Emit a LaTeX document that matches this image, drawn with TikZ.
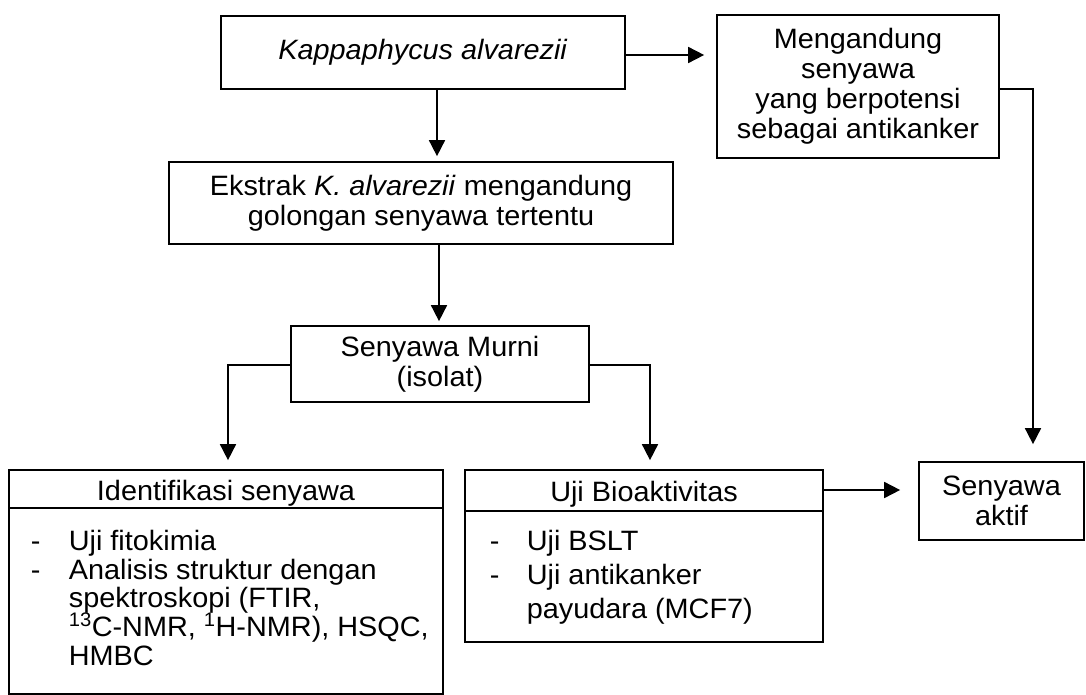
\documentclass[tikz,border=0pt]{standalone}
\usepackage{fontspec}
\setmainfont{Liberation Sans}[FakeStretch=1.03]
\usetikzlibrary{arrows.meta}
\begin{document}
\begin{tikzpicture}[x=1pt,y=-1pt,line width=1.7pt,
  every node/.style={font=\fontsize{28}{30}\selectfont, inner sep=0pt},
  box/.style={draw, rectangle, align=center, anchor=center},
  txt/.style={anchor=base west},
  ctxt/.style={anchor=base},
  arr/.style={-{Triangle[length=16pt,width=16pt]}}]
\useasboundingbox (0,0) rectangle (1086,695);

% boxes
\node[box, minimum width=404pt, minimum height=73pt] (k) at (423,52.5) {\textit{Kappaphycus alvarezii}};
\node[box, minimum width=282pt, minimum height=143pt] (m) at (858,86.5)
  {\fontsize{28}{30.5}\selectfont Mengandung\\senyawa\\yang berpotensi\\sebagai antikanker};
\node[box, minimum width=504pt, minimum height=82pt] (e) at (421,203)
  {\fontsize{28}{30}\selectfont Ekstrak \textit{K. alvarezii} mengandung\\golongan senyawa tertentu};
\node[box, minimum width=298pt, minimum height=76pt] (s) at (440,364) {Senyawa Murni\\(isolat)};
\node[box, minimum width=434pt, minimum height=224pt] (id) at (226,582) {};
\node[box, minimum width=358pt, minimum height=172pt] (bio) at (644,556) {};
\node[box, minimum width=165pt, minimum height=78pt] (ak) at (1001.5,501)
  {\fontsize{28}{30}\selectfont Senyawa\\aktif};

% dividers
\draw (id.west |- 0,508) -- (id.east |- 0,508);
\draw (bio.west |- 0,511) -- (bio.east |- 0,511);

% headers
\node[ctxt] (idh) at (226,500) {Identifikasi senyawa};
\node[ctxt] (bioh) at (644,501) {Uji Bioaktivitas};

% identifikasi list
\node[txt] (idd1) at (30,550) {-};
\node[txt] (idt1) at (68,550) {Uji fitokimia};
\node[txt] (idd2) at (30,579) {-};
\node[txt] (idt2) at (68,579) {Analisis struktur dengan};
\node[txt] (idt3) at (68,607) {spektroskopi (FTIR,};
\node[txt] (idt4) at (68,636) {\textsuperscript{13}C-NMR, \textsuperscript{1}H-NMR), HSQC,};
\node[txt] (idt5) at (68,665) {HMBC};

% bioaktivitas list
\node[txt] (bd1) at (489,550) {-};
\node[txt] (bt1) at (526,550) {Uji BSLT};
\node[txt] (bd2) at (489,584) {-};
\node[txt] (bt2) at (526,584) {Uji antikanker};
\node[txt] (bt3) at (526,618) {payudara (MCF7)};

% connectors
\draw[arr, shorten >=12pt] ([yshift=-2.5pt]k.east) -- ([yshift=-2.5pt]k.east -| m.west);
\draw[arr, shorten >=5pt] ([xshift=14pt]k.south) -- ([xshift=14pt]k.south |- e.north);
\draw[arr, shorten >=4pt] ([xshift=18pt]e.south) -- ([xshift=18pt]e.south |- s.north);
\draw[arr, shorten >=9pt] ([yshift=-1pt]s.west) -| ([xshift=2pt]id.north);
\draw[arr, shorten >=9pt] ([yshift=-1pt]s.east) -| ([xshift=6pt]bio.north);
\draw[arr, shorten >=17pt] ([yshift=-2.5pt]m.east) -| ([xshift=31.5pt]ak.north);
\coordinate (a1) at ([yshift=11pt]ak.west);
\draw[arr, shorten >=18pt] (bio.east |- a1) -- (a1);
\end{tikzpicture}
\end{document}
